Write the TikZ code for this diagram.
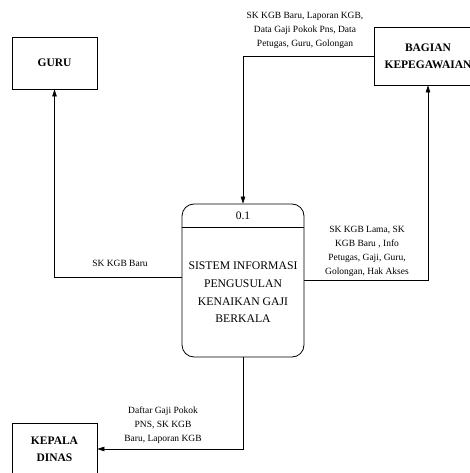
\documentclass[tikz,border=0pt]{standalone}
\usepackage{fontspec}
\setmainfont{Liberation Serif}
\usetikzlibrary{arrows.meta,calc}

\tikzset{
  entity/.style={draw,thick,minimum width=85pt,minimum height=52pt,align=center,
    font=\bfseries\fontsize{11.5}{17}\selectfont},
  flow/.style={draw,semithick,-{Triangle[length=7pt,width=4.5pt]}},
  lbl/.style={align=center,inner sep=0pt,font=\fontsize{9.5}{14}\selectfont}
}

\begin{document}
\begin{tikzpicture}[x=1pt,y=-1pt]
\useasboundingbox (0,0) rectangle (470,473);
\node[entity] (guru) at (54.5,63) {GURU};
\node[entity,minimum width=108pt,minimum height=58pt] (bagian) at (428,56) {BAGIAN\\KEPEGAWAIAN};
\node[entity] (kepala) at (54.5,449) {KEPALA\\DINAS};
\node[draw,thick,rounded corners=12pt,minimum width=122pt,minimum height=153pt] (proses) at (243,280.5) {};
\node[font=\fontsize{11.5}{14}\selectfont] (nomor) at (243,216) {0.1};
\draw[thick] ($(proses.north west)+(0,24)$) -- ($(proses.north east)+(0,24)$);
\node[align=center,font=\fontsize{11.7}{17.7}\selectfont] (judul) at (243,292.5)
  {SISTEM INFORMASI\\PENGUSULAN\\KENAIKAN GAJI\\BERKALA};
\draw[flow] ([yshift=3.5pt]proses.west) -| (guru.south);
\draw[flow] (proses.east) -| (bagian.south);
\draw[flow] (bagian.west) -| (proses.north);
\draw[flow] (proses.south) |- (kepala.east);
\node[lbl] (l1) at (305,30) {SK KGB Baru, Laporan KGB,\\Data Gaji Pokok Pns, Data\\Petugas, Guru, Golongan};
\node[lbl] (l2) at (120,263) {SK KGB Baru};
\node[lbl] (l3) at (367,251) {SK KGB Lama, SK\\KGB Baru , Info\\Petugas, Gaji, Guru,\\Golongan, Hak Akses};
\node[lbl] (l4) at (163,425) {Daftar Gaji Pokok\\PNS, SK KGB\\Baru, Laporan KGB};
\end{tikzpicture}
\end{document}
